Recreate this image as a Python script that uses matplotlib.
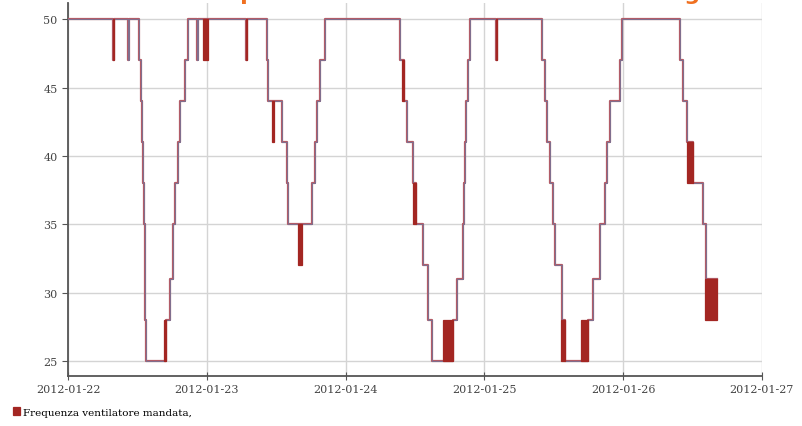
import matplotlib
matplotlib.use("Agg")
import matplotlib.pyplot as plt
import matplotlib.dates as mdates
import numpy as np
import pandas as pd

start = pd.Timestamp("2012-01-22")

# fan frequency set point, hours from start and value in Hz (step changes)
hours = [0.0, 7.80, 7.95, 10.43, 10.55, 12.28, 12.60, 12.80, 13.00, 13.15,
         13.30, 13.40, 13.49, 16.94, 17.64, 18.10, 18.50, 19.02, 19.37, 20.23,
         20.75, 22.25, 22.40, 30.85, 31.00, 34.35, 34.60, 37.00, 37.80, 38.04,
         42.13, 42.70, 43.10, 43.57, 44.44, 57.40, 58.10, 58.56, 59.65, 60.17,
         61.40, 62.30, 62.90, 66.60, 67.35, 68.30, 68.50, 68.60, 68.90, 69.20,
         69.50, 74.10, 74.25, 81.90, 82.50, 82.80, 83.30, 83.90, 84.20, 85.40,
         85.90, 89.96, 90.77, 91.98, 92.85, 93.14, 93.71, 95.44, 95.74, 105.80,
         106.40, 106.97, 108.10, 109.80, 110.40, 112.20]
freq = [50, 47, 50, 47, 50, 47, 44, 41, 38, 35,
        32, 28, 25, 28, 31, 35, 38, 41, 44, 47,
        50, 47, 50, 47, 50, 47, 44, 41, 38, 35,
        38, 41, 44, 47, 50, 47, 44, 41, 38, 35,
        32, 28, 25, 28, 31, 35, 38, 41, 44, 47,
        50, 47, 50, 47, 44, 41, 38, 35, 32, 28,
        25, 28, 31, 35, 38, 41, 44, 47, 50, 47,
        44, 41, 38, 35, 31, 31]

# periods where the command toggles quickly between two levels
band_start = [7.75, 16.60, 23.40, 30.80, 35.30, 39.80, 57.80, 59.65, 64.80,
              74.10, 85.30, 88.80, 106.97, 110.20]
band_end = [7.95, 16.94, 24.20, 31.00, 35.60, 40.50, 58.10, 60.20, 66.60,
            74.25, 85.90, 90.00, 108.10, 112.20]
band_low = [47, 25, 47, 47, 41, 32, 44, 35, 25, 47, 25, 25, 38, 28]
band_high = [50, 28, 50, 50, 44, 35, 47, 38, 28, 50, 28, 28, 41, 31]

t = start + pd.to_timedelta(hours, unit="h")
bs = start + pd.to_timedelta(band_start, unit="h")
widths = (np.array(band_end) - np.array(band_start)) / 24.0
heights = np.array(band_high) - np.array(band_low)

fig = plt.figure(figsize=(8.02, 4.27), dpi=100)
ax = fig.add_axes([0.0848, 0.117, 0.8652, 0.8736])

ax.plot(t, freq, drawstyle="steps-post", color="#b25c68", lw=1.6, zorder=3)
ax.plot(t, freq, drawstyle="steps-post", color="#7f7090", lw=0.7, zorder=4)
bars = ax.bar(bs, heights, width=widths, bottom=band_low, align="edge",
              color="#a32622", edgecolor="#a32622", lw=0.9, zorder=5,
              label="Frequenza ventilatore mandata,")

ax.set_xlim(start, start + pd.Timedelta(days=5))
ax.set_ylim(23.9, 51.2)
ax.set_yticks([25, 30, 35, 40, 45, 50])
ax.xaxis.set_major_locator(mdates.DayLocator())
ax.xaxis.set_major_formatter(mdates.DateFormatter("%Y-%m-%d"))

ax.grid(True, color="#d4d4d4", lw=1.0)
ax.set_axisbelow(True)
for side in ["top", "right"]:
    ax.spines[side].set_visible(False)
for side in ["left", "bottom"]:
    ax.spines[side].set_color("#555555")
    ax.spines[side].set_linewidth(1.3)
ax.tick_params(axis="y", direction="out", length=4, color="#555555",
               labelsize=8, labelcolor="#444444")
ax.tick_params(axis="x", direction="inout", length=6, color="#555555",
               labelsize=8, labelcolor="#444444", pad=3)
for lab in ax.get_xticklabels() + ax.get_yticklabels():
    lab.set_family("DejaVu Serif")

fig.legend(handles=[bars], loc="lower left", bbox_to_anchor=(0.004, 0.0),
           frameon=False, handlelength=0.7, handleheight=0.9,
           handletextpad=0.3, prop={"family": "DejaVu Serif", "size": 7.5})

# title sits on the top edge, only its descenders fall inside the figure
fig.text(0.24, 1.0, "Frequenza ventilatore mandata: ultimi giorni",
         color="#f07020", fontsize=16, fontweight="bold", ha="left",
         va="baseline")

fig.savefig("out.png", dpi=100)
